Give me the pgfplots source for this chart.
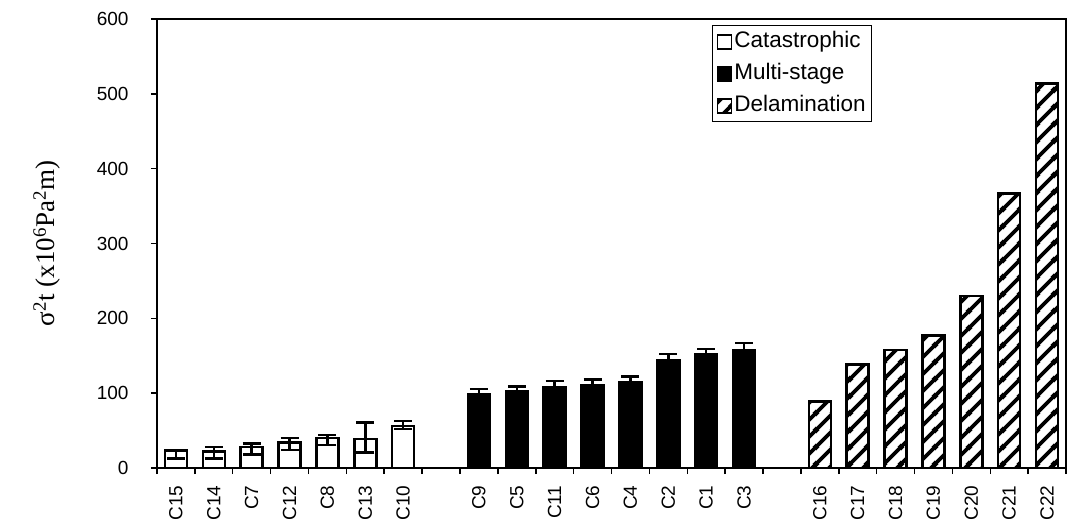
\documentclass[border=0pt]{standalone}
\usepackage{fontspec}
\setmainfont{Liberation Sans}
\newfontfamily\tnr{Liberation Serif}
\usepackage{pgfplots}
\pgfplotsset{compat=1.18}
\usepackage{pgfplotstable}
\usetikzlibrary{patterns.meta}

\tikzdeclarepattern{
  name=thickstripes,
  type=uncolored,
  bounding box={(0pt,0pt) and (17pt,17pt)},
  tile size={(17pt,17pt)},
  code={
    \draw[line width=4pt] (-3pt,-3pt) -- (20pt,20pt);
    \draw[line width=4pt] (-3pt,14pt) -- (3pt,20pt);
    \draw[line width=4pt] (14pt,-3pt) -- (20pt,3pt);
  }
}

\pgfplotstableread{
x y ep em
0 23.5 0 11
1 22 6 9
2 28 5 10
3 34 6 10
4 40 4 9
5 39 22 18
6 56 7 4
}\cat

\pgfplotstableread{
x y e
8 98.5 7
9 102 7
10 108 8
11 111 7
12 114 8
13 144.5 8
14 152 7
15 158 9
}\multi

\pgfplotstableread{
x y
17 89
18 138
19 158
20 177
21 230
22 367
23 514
}\delam

\begin{document}
\begin{tikzpicture}
\begin{axis}[
  scale only axis, width=909pt, height=449pt,
  xmin=-0.5, xmax=23.5, ymin=0, ymax=600,
  axis line style={line width=2pt},
  ytick={0,100,...,600},
  xtick={0,1,2,3,4,5,6,8,9,10,11,12,13,14,15,17,18,19,20,21,22,23},
  xticklabels={C15,C14,C7,C12,C8,C13,C10,C9,C5,C11,C6,C4,C2,C1,C3,C16,C17,C18,C19,C20,C21,C22},
  minor xtick={-0.5,0.5,...,23.5},
  tick align=outside, xtick pos=left, ytick pos=left,
  major x tick style={draw=none},
  minor x tick style={line width=1.5pt, black},
  major y tick style={line width=1.5pt, black},
  major tick length=6pt, minor tick length=6pt,
  /pgf/number format/assume math mode=true,
  ticklabel style={font=\fontsize{19}{22}\selectfont},
  xticklabel style={rotate=90, anchor=east},
  xticklabel shift=8pt,
  yticklabel shift=19pt,
  ylabel={\tnr\fontsize{27}{30}\selectfont σ\textsuperscript{2}t (x10\textsuperscript{6}Pa\textsuperscript{2}m)},
  ylabel style={at={(rel axis cs:-0.121,0.5)}, anchor=center},
  legend style={at={(rel axis cs:0.6106,0.9866)}, anchor=north west, draw=black, line width=1.2pt,
    font=\fontsize{22.5}{26}\selectfont, inner sep=4pt, row sep=8pt, cells={anchor=west},
    nodes={text height=16pt, text depth=4pt}},
  legend image code/.code={\draw[#1, line width=1.8pt] (0pt,-7pt) rectangle (14pt,7pt);},
]
\coordinate (sw) at (rel axis cs:0,0);
\addplot[ybar, bar width=0.58, bar shift=0pt, fill=white, draw=black, line width=2.5pt,
  error bars/.cd, y dir=both, y explicit,
  error bar style={line width=2.5pt, black},
  error mark options={rotate=90, mark size=9pt, line width=2.5pt, black}]
  table[x=x, y=y, y error plus=ep, y error minus=em] {\cat};
\addlegendentry{Catastrophic}
\addplot[ybar, bar width=0.58, bar shift=0pt, fill=black, draw=black, line width=2.5pt,
  error bars/.cd, y dir=both, y explicit,
  error bar style={line width=2.5pt, black},
  error mark options={rotate=90, mark size=9pt, line width=2.5pt, black}]
  table[x=x, y=y, y error=e] {\multi};
\addlegendentry{Multi-stage}
\addplot[ybar, bar width=0.58, bar shift=0pt, fill=white, draw=black, line width=2.5pt,
  postaction={pattern=thickstripes, pattern color=black}]
  table[x=x, y=y] {\delam};
\addlegendentry{Delamination}
\end{axis}
\pgfresetboundingbox
\path[use as bounding box] (sw) ++(-157pt,-63pt) rectangle ++(1072pt,531pt);
\end{tikzpicture}
\end{document}
